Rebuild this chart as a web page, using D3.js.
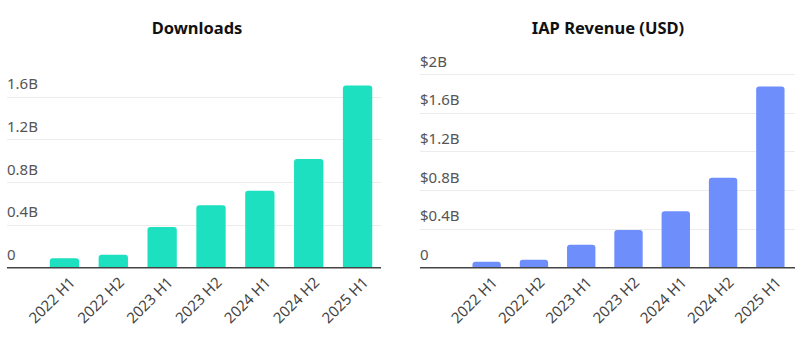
<!DOCTYPE html>
<html><head><meta charset="utf-8">
<script src="https://cdn.jsdelivr.net/npm/d3@7"></script>
<style>
html,body{margin:0;padding:0;background:#fff;}
svg{display:block;font-family:"Noto Sans","Open Sans",sans-serif;}
</style></head>
<body>
<svg id="chart" width="800" height="344"></svg>
<script>
const categories = ["2022 H1","2022 H2","2023 H1","2023 H2","2024 H1","2024 H2","2025 H1"];
const downloads = [0.088, 0.122, 0.381, 0.585, 0.721, 1.018, 1.705];
const revenue = [0.062, 0.083, 0.238, 0.39, 0.583, 0.93, 1.87];
const downloadTicks = [0, 0.4, 0.8, 1.2, 1.6];
const revenueTicks = [0, 0.4, 0.8, 1.2, 1.6, 2.0];
const downloadTickLabels = ["0","0.4B","0.8B","1.2B","1.6B"];
const revenueTickLabels = ["0","$0.4B","$0.8B","$1.2B","$1.6B","$2B"];

const svg = d3.select("#chart");

function panel(opts){
  const g = svg.append("g");
  const x = d3.scaleBand().domain(categories).range([opts.bx0, opts.bx1]).paddingInner(0.4).paddingOuter(0.2);
  const y = d3.scaleLinear().domain([0, opts.ymax]).range([opts.baseY, opts.topY]);
  g.append("text").attr("x", opts.titleX).attr("y", 34).attr("text-anchor","middle")
    .attr("font-size", 16.5).attr("font-weight", 700).attr("fill", "#111").text(opts.title);
  g.selectAll("line.grid").data(opts.ticks.filter(t=>t>0)).join("line")
    .attr("x1", opts.gx0).attr("x2", opts.gx1)
    .attr("y1", d=>Math.round(y(d))+0.5).attr("y2", d=>Math.round(y(d))+0.5)
    .attr("stroke", "#ececec").attr("stroke-width", 1);
  g.selectAll("text.ylab").data(opts.ticks).join("text")
    .attr("x", opts.gx0).attr("y", d=>y(d)-7.5)
    .attr("font-size", 15).attr("fill", "#555").text((d,i)=>opts.tickLabels[i]);
  const r = 3;
  g.selectAll("path.bar").data(opts.values).join("path")
    .attr("fill", opts.color)
    .attr("d", (d,i)=>{
      const x0 = x(categories[i]), w = x.bandwidth(), y0 = y(d), yb = y(0);
      return `M${x0},${yb}V${y0+r}Q${x0},${y0} ${x0+r},${y0}H${x0+w-r}Q${x0+w},${y0} ${x0+w},${y0+r}V${yb}Z`;
    });
  g.append("line").attr("x1", opts.gx0).attr("x2", opts.gx1)
    .attr("y1", y(0)).attr("y2", y(0)).attr("stroke", "#444").attr("stroke-width", 1.5);
  g.selectAll("text.xlab").data(categories).join("text")
    .attr("transform", d=>`translate(${x(d)+x.bandwidth()/2+8},${y(0)+12}) rotate(-45)`)
    .attr("text-anchor","end").attr("dy","0.35em")
    .attr("font-size", 15).attr("fill", "#444").text(d=>d);
}

panel({title:"Downloads", titleX:197, color:"#1ce0bf", values:downloads,
  ticks:downloadTicks, tickLabels:downloadTickLabels, ymax:1.6,
  baseY:267.7, topY:96.7, gx0:7, gx1:381, bx0:40, bx1:382});
panel({title:"IAP Revenue (USD)", titleX:608, color:"#6e8efb", values:revenue,
  ticks:revenueTicks, tickLabels:revenueTickLabels, ymax:2.0,
  baseY:267.7, topY:74, gx0:420, gx1:795, bx0:463, bx1:794});
</script>
</body></html>
